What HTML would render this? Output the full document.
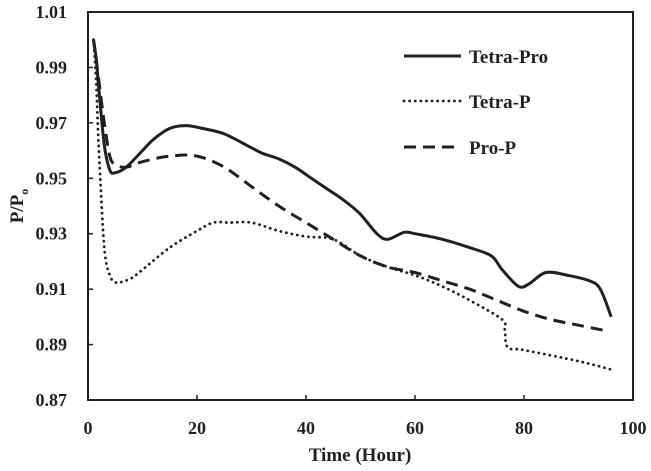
<!DOCTYPE html>
<html><head><meta charset="utf-8"><style>
body{margin:0;background:#fff}
svg text{font-family:"Liberation Serif",serif;font-weight:bold;fill:#231f20}
</style></head><body>
<svg id="c" width="651" height="466" xmlns="http://www.w3.org/2000/svg"></svg>
<script>
const xTicks=[0,20,40,60,80,100];
const yTicks=[0.87,0.89,0.91,0.93,0.95,0.97,0.99,1.01];
const tetraProX=[1,1.5,2,3,4,5,7,10,12,15,18,21,25,30,32,35,38,41,44,47,50,53,55,58,60,65,70,74,76,79,81,84,88,92,94,96];
const tetraProY=[1.0,0.993,0.982,0.962,0.953,0.952,0.954,0.960,0.964,0.968,0.969,0.968,0.966,0.961,0.959,0.957,0.954,0.950,0.946,0.942,0.937,0.930,0.928,0.9305,0.930,0.928,0.925,0.922,0.917,0.911,0.912,0.916,0.915,0.913,0.910,0.900];
const tetraPX=[1,1.5,2,3,4,5,6,8,10,15,20,23,26,30,35,40,45,50,55,60,65,70,76,76.5,77,80,90,96];
const tetraPY=[1.0,0.985,0.960,0.925,0.915,0.9125,0.9125,0.914,0.917,0.925,0.931,0.934,0.934,0.934,0.931,0.929,0.928,0.922,0.918,0.915,0.911,0.906,0.899,0.895,0.889,0.888,0.884,0.881];
const proPX=[1,1.5,2,3,4,5,7,10,15,20,25,30,35,40,45,50,55,60,65,70,75,80,85,90,95];
const proPY=[1.0,0.993,0.985,0.970,0.958,0.955,0.954,0.956,0.958,0.958,0.954,0.947,0.940,0.934,0.928,0.922,0.918,0.916,0.913,0.910,0.906,0.902,0.899,0.897,0.895];
const L=88,R=633,T=12,B=400;
const sx=v=>L+(v-0)/100*(R-L);
const sy=v=>B-(v-0.87)/0.14*(B-T);
const svg=document.getElementById('c');const NS='http://www.w3.org/2000/svg';
function mk(t,a,p){const e=document.createElementNS(NS,t);for(const k in a)e.setAttribute(k,a[k]);(p||svg).appendChild(e);return e;}
const frame=mk('rect',{x:L,y:T,width:R-L,height:B-T,fill:'none',stroke:'#231f20','stroke-width':2});


xTicks.forEach(v=>{const t=mk('line',{x1:sx(v),x2:sx(v),y1:B,y2:B-5,stroke:'#231f20','stroke-width':1.5});


const l=mk('text',{x:sx(v),y:434,'text-anchor':'middle','font-size':18});l.textContent=v;

});
yTicks.forEach(v=>{const t=mk('line',{x1:L,x2:L+5,y1:sy(v),y2:sy(v),stroke:'#231f20','stroke-width':1.5});


const l=mk('text',{x:67,y:sy(v)+6,'text-anchor':'end','font-size':18});l.textContent=v.toFixed(2);

});
const xt=mk('text',{x:360,y:461,'text-anchor':'middle','font-size':19});xt.textContent='Time (Hour)';


const yt=mk('text',{transform:'translate(23,206) rotate(-90)','text-anchor':'middle','font-size':19});
yt.innerHTML='P/P<tspan font-size="12" dy="5">o</tspan>';


function smooth(pts){let d='M'+pts[0][0].toFixed(1)+','+pts[0][1].toFixed(1);
for(let i=0;i<pts.length-1;i++){const p0=pts[i-1]||pts[i],p1=pts[i],p2=pts[i+1],p3=pts[i+2]||p2;
const c1=[p1[0]+(p2[0]-p0[0])/6,p1[1]+(p2[1]-p0[1])/6],c2=[p2[0]-(p3[0]-p1[0])/6,p2[1]-(p3[1]-p1[1])/6];
d+='C'+c1.map(n=>n.toFixed(1)).join(',')+' '+c2.map(n=>n.toFixed(1)).join(',')+' '+p2.map(n=>n.toFixed(1)).join(',');}
return d;}
function styleFor(s){const a={fill:'none',stroke:'#231f20','stroke-width':3,'stroke-linejoin':'round'};
if(s=='dot'){a['stroke-dasharray']='0.1 5.5';a['stroke-linecap']='round';a['stroke-width']=2.8;}
if(s=='dash'){a['stroke-dasharray']='12 7';}return a;}
function series(xs,ys,dash,name){const a=styleFor(dash);a.d=smooth(xs.map((x,i)=>[sx(x),sy(ys[i])]));
const p=mk('path',a);

}
series(tetraProX,tetraProY,'solid','tetra-pro-line');
series(tetraPX,tetraPY,'dot','tetra-p-line');
series(proPX,proPY,'dash','pro-p-line');
const legs=[['Tetra-Pro','solid',56],['Tetra-P','dot',101],['Pro-P','dash',147]];
legs.forEach(([n,s,y])=>{const a=styleFor(s);a.x1=404;a.x2=461;a.y1=y;a.y2=y;
const ln=mk('line',a);


const t=mk('text',{x:469,y:y+7,'font-size':19});t.textContent=n;

});
</script>
</body></html>
